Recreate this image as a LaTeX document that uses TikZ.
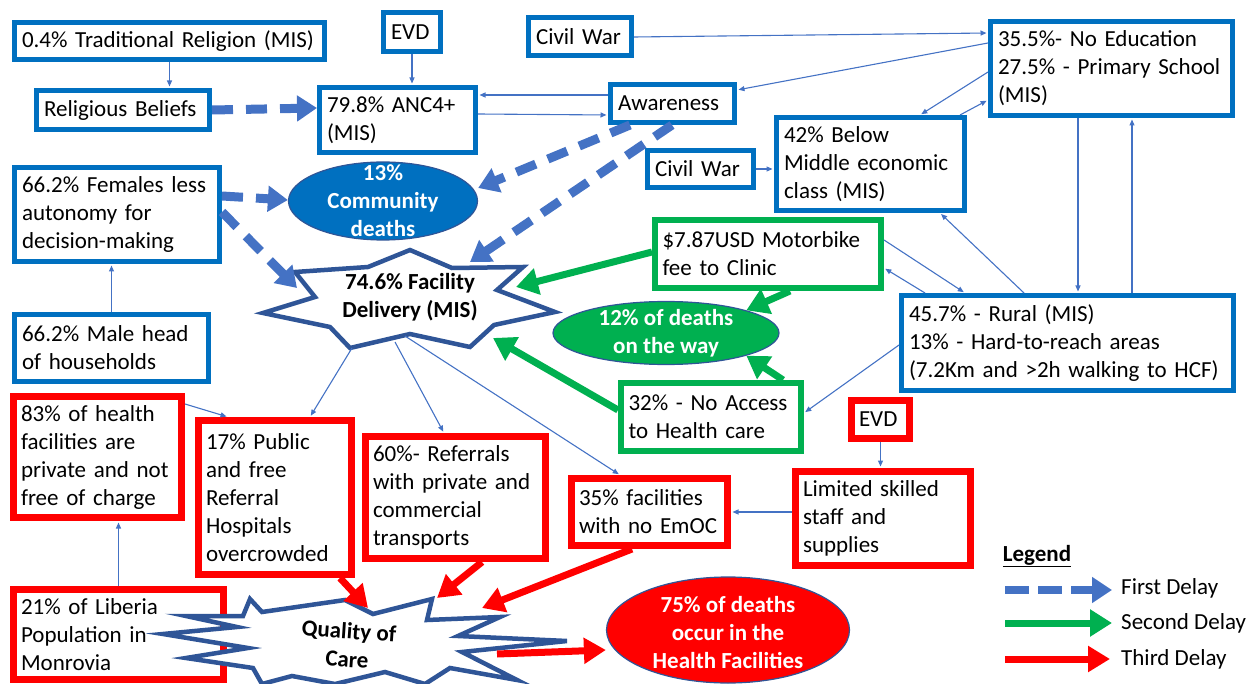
\documentclass[tikz,border=0pt]{standalone}
\usepackage{fontspec}
\setmainfont{Carlito}
\usetikzlibrary{arrows.meta,shapes.geometric,calc}
\definecolor{bxblue}{HTML}{0070C0}
\definecolor{arrblue}{HTML}{4472C4}
\definecolor{stblue}{HTML}{2F5597}
\definecolor{grn}{HTML}{00B050}
\definecolor{rd}{HTML}{FF0000}
\newcommand{\dfont}{\fontsize{23}{28}\selectfont}
\newcommand{\bx}[8]{%
  \pgfmathsetmacro\bxw{#5-#3-#7}%
  \pgfmathsetmacro\bxh{#6-#4-#7}%
  \pgfmathsetmacro\bxt{#5-#3-#7-15}%
  \node[#1, line width=#7pt, minimum width=\bxw pt, minimum height=\bxh pt, text width=\bxt pt] (#2) at ({(#3+#5)/2},{(#4+#6)/2}) {#8};%
}
\begin{document}
\begin{tikzpicture}[x=1pt,y=-1pt,
  basebox/.style={fill=white, align=left, inner xsep=7.5pt, inner ysep=1pt, font=\dfont},
  bbox/.style={basebox, draw=bxblue},
  gbox/.style={basebox, draw=grn},
  rbox/.style={basebox, draw=rd},
  elltext/.style={text=white, font=\dfont\bfseries, align=center, inner sep=0pt},
  sttext/.style={font=\dfont\bfseries, align=center, inner sep=0pt},
  starline/.style={draw=stblue, line width=4.5pt, fill=white, line join=miter},
  thinarr/.style={draw=arrblue, line width=1.1pt, shorten >=1.5pt, -{Triangle[length=6pt,width=5pt]}},
  dasharr/.style={draw=arrblue, line width=9pt, dash pattern=on 21pt off 13pt, -{Triangle[length=20pt,width=25pt]}},
  legdash/.style={draw=arrblue, line width=8pt, dash pattern=on 24pt off 9pt, -{Triangle[length=20pt,width=25pt]}},
  garr/.style={draw=grn, line width=7pt, -{Triangle[length=22pt,width=26pt]}},
  rarr/.style={draw=rd, line width=7pt, -{Triangle[length=22pt,width=25pt]}}
]
\useasboundingbox (0,0) rectangle (1252,684);

% ---- boxes ----
\bx{bbox}{trad}{12}{20}{327}{62}{5}{0.4\% Traditional Religion (MIS)}
\bx{bbox}{relig}{34}{88}{212}{132}{5}{Religious Beliefs}
\bx{bbox}{evdA}{381}{10}{443}{54}{5}{EVD}
\bx{bbox}{anc}{317}{85}{478}{155}{5}{79.8\% ANC4+\\(MIS)}
\bx{bbox}{civA}{526}{15}{634}{58}{5}{Civil War}
\bx{bbox}{aware}{608}{82}{737}{125}{5}{Awareness}
\bx{bbox}{edu}{988}{19}{1235}{118}{5}{35.5\%- No Education\\27.5\% - Primary School\\(MIS)}
\bx{bbox}{econ}{774}{115}{967}{213}{5}{42\% Below\\Middle economic\\class (MIS)}
\bx{bbox}{civB}{645}{148}{756}{190}{5}{Civil War}
\bx{bbox}{fem}{12}{165}{222}{264}{5}{66.2\% Females less\\autonomy for\\decision-making}
\bx{bbox}{male}{12}{312}{211}{384}{5}{66.2\% Male head\\of households}
\bx{bbox}{rural}{899}{293}{1236}{393}{5}{45.7\% - Rural (MIS)\\13\% - Hard-to-reach areas\\(7.2Km and >2h walking to HCF)}
\bx{gbox}{moto}{652}{217}{884}{291}{6}{\$7.87USD Motorbike\\fee to Clinic}
\bx{gbox}{access}{618}{380}{804}{454}{6}{32\% - No Access\\to Health care}
\bx{rbox}{evdB}{848}{397}{913}{442}{7}{EVD}
\bx{rbox}{limited}{792}{468}{974}{569}{7}{Limited skilled\\staff and\\supplies}
\bx{rbox}{emoc}{568}{475}{731}{549}{7}{35\% facilities\\with no EmOC}
\bx{rbox}{refer}{362}{433}{549}{562}{7}{60\%- Referrals\\with private and\\commercial\\transports}
\bx{rbox}{public}{195}{417}{355}{578}{7}{17\% Public\\and free\\Referral\\Hospitals\\overcrowded}
\bx{rbox}{priv}{10}{393}{185}{521}{7}{83\% of health\\facilities are\\private and not\\free of charge}
\bx{rbox}{monr}{10}{586}{227}{683}{7}{21\% of Liberia\\Population in\\Monrovia}

% ---- ellipses ----
\node[ellipse, fill=bxblue, draw=stblue, line width=1.2pt, minimum width=189pt, minimum height=78pt, inner sep=0pt] (comm) at (383,201) {};
\node[elltext] (commt) at (comm) {13\%\\Community\\deaths};
\node[ellipse, fill=grn, draw=stblue, line width=1.2pt, minimum width=226pt, minimum height=63pt, inner sep=0pt] (way) at (666,333) {};
\node[elltext] (wayt) at (way) {12\% of deaths\\on the way};
\node[ellipse, fill=rd, draw=stblue, line width=1.2pt, minimum width=243pt, minimum height=106pt, inner sep=0pt] (hf) at (728,630) {};
\node[elltext] (hft) at ([yshift=-3pt]hf.center) {75\% of deaths\\occur in the\\Health Facilities};

% ---- stars ----
\draw[starline] (410,250) -- (452,268) -- (523,267) -- (497,290) -- (555,312) -- (494,325) -- (470,347) -- (410,334) -- (350,348) -- (330,327) -- (263,313) -- (315,297) -- (295,272) -- (368,267) -- cycle;
\node[sttext] (fac) at (410,297) {74.6\% Facility\\Delivery (MIS)};

\draw[starline] (250,599) -- (262,612) -- (345,600) -- (373,614) -- (432,599) -- (427,620) -- (500,617) -- (458,636) -- (567,641) -- (462,652) -- (517,680) -- (450,668) -- (425,684) -- (385,672) -- (335,684) -- (292,676) -- (262,684) -- (253,668) -- (186,658) -- (248,648) -- (163,634) -- (237,627) -- (186,616) -- (243,616) -- cycle;
\node[sttext, rotate=-4] (qoc) at (348,645) {Quality of\\Care};

% ---- thin connectors ----
\draw[thinarr] (trad.south) -- (trad.south |- relig.north);
\draw[thinarr] (evdA.south) -- (evdA.south |- anc.north);
\draw[thinarr] (aware.west |- 0,95) -- (anc.east |- 0,95);
\draw[thinarr] (anc.east |- 0,114) -- (aware.west |- 0,115);
\draw[thinarr] (civA.east |- 0,37) -- (edu.west |- 0,33);
\draw[thinarr] (edu.west |- 0,43) -- (aware.east |- 0,90);
\draw[thinarr] (edu.west |- 0,72) -- (920,0 |- econ.north);
\draw[thinarr] (960,0 |- econ.north) -- (edu.west |- 0,100);
\draw[thinarr] (1078,0 |- edu.south) -- (1078,0 |- rural.north);
\draw[thinarr] (1132,0 |- rural.north) -- (1132,0 |- edu.south);
\draw[thinarr] (1024,0 |- rural.north) -- (940,0 |- econ.south);
\draw[thinarr] (civB.east) -- (econ.west |- civB.east);
\draw[thinarr] (moto.east |- 0,240) -- (965,0 |- rural.north);
\draw[thinarr] (925,0 |- rural.north) -- (moto.east |- 0,268);
\draw[thinarr] (rural.west |- 0,345) -- (access.east |- 0,413);
\draw[thinarr] (evdB.south) -- (evdB.south |- limited.north);
\draw[thinarr] (limited.west |- 0,512) -- (emoc.east |- 0,512);
\draw[thinarr] (male.north) -- (male.north |- fem.south);
\draw[thinarr] (monr.north) -- (monr.north |- priv.south);
\draw[thinarr] (priv.east |- 0,404) -- (228,0 |- public.north);
\draw[thinarr] ($(fac)+(-58,51)$) -- (310,0 |- public.north);
\draw[thinarr] ($(fac)+(-15,45)$) -- (444,0 |- refer.north);
\draw[thinarr] ($(fac)+(-5,39)$) -- (620,0 |- emoc.north);

% ---- first delay ----
\draw[dasharr] (relig.east) -- (anc.west |- 0,108);
\draw[dasharr] (fem.east |- 0,196) -- (comm.west |- 0,200);
\draw[dasharr] (fem.east |- 0,212) -- ($(fac)+(-113,-9)$);
\draw[dasharr] (630,0 |- aware.south) -- (comm.east |- 0,188);
\draw[dasharr] (672,0 |- aware.south) -- ($(fac)+(60,-35)$);

% ---- second delay ----
\draw[garr] (moto.west |- 0,252) -- ($(fac)+(106,-10)$);
\draw[garr] (790,0 |- moto.south) -- (way.north east);
\draw[garr] (783,0 |- access.north) -- (way.south east);
\draw[garr] (access.west |- 0,410) -- ($(fac)+(83,41)$);

% ---- third delay ----
\draw[rarr] (340,0 |- public.south) -- ($(qoc)+(20,-37)$);
\draw[rarr] (482,0 |- refer.south) -- ($(qoc)+(89,-47)$);
\draw[rarr] (632,0 |- emoc.south) -- ($(qoc)+(134,-37)$);
\draw[rarr] ($(qoc)+(149,9)$) -- (hf.west |- 0,650);

% ---- legend ----
\node[font=\dfont\bfseries, inner sep=1pt] (leg) at (1037,556) {\underline{Legend}};
\coordinate (l1a) at (1005,590); \coordinate (l1b) at (1112,590);
\coordinate (l2a) at (1005,623); \coordinate (l2b) at (1112,623);
\coordinate (l3a) at (1005,659); \coordinate (l3b) at (1110,659);
\draw[legdash] (l1a) -- (l1b);
\draw[garr] (l2a) -- (l2b);
\draw[rarr] (l3a) -- (l3b);
\node[anchor=west, font=\dfont, inner sep=1pt] (l1t) at (1120,588) {First Delay};
\node[anchor=west, font=\dfont, inner sep=1pt] (l2t) at (1120,623) {Second Delay};
\node[anchor=west, font=\dfont, inner sep=1pt] (l3t) at (1120,659) {Third Delay};
\end{tikzpicture}
\end{document}
